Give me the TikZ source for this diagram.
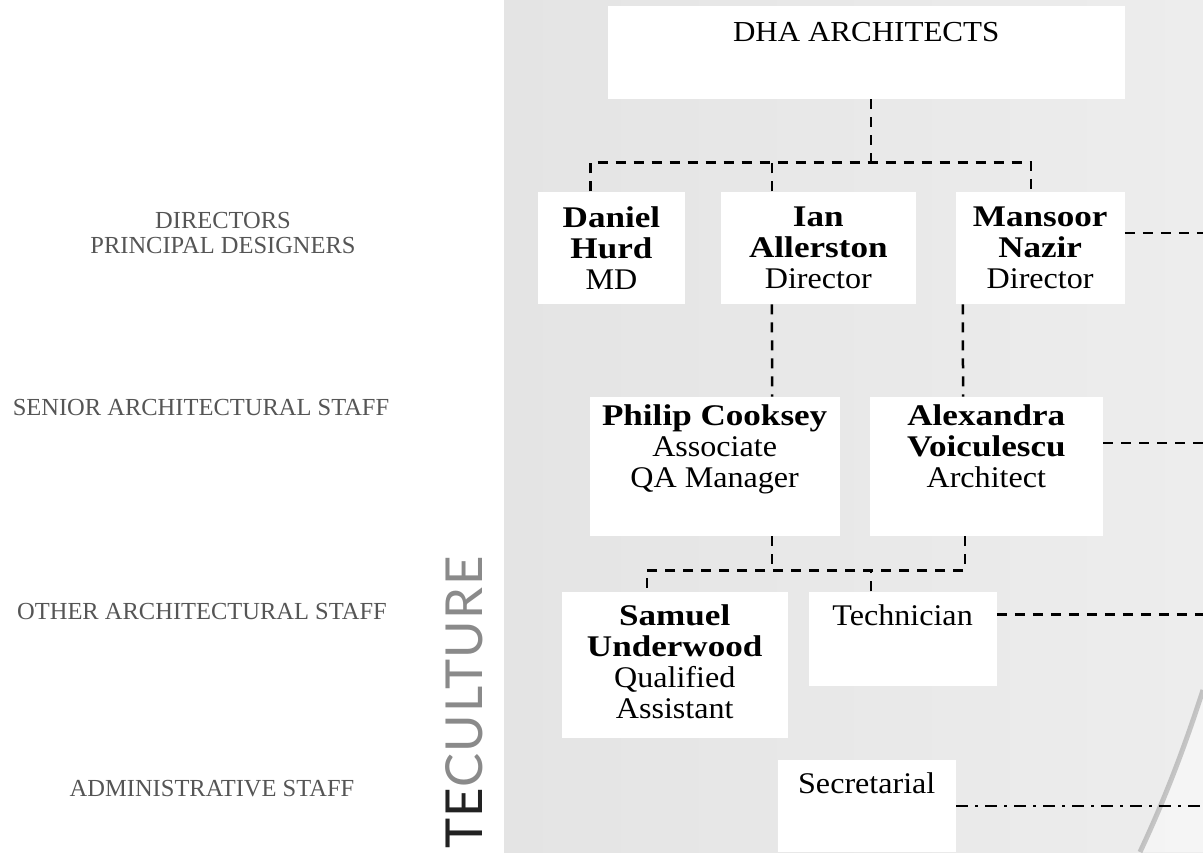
\documentclass[tikz,border=0pt]{standalone}
\usepackage{fontspec}
\setmainfont{Liberation Serif}
\newfontfamily\boxfont{Liberation Serif}[FakeStretch=1.07,BoldFeatures={FakeStretch=1.17}]
\newfontfamily\culturefont{Lato}[LetterSpace=3]
\usetikzlibrary{positioning,fit}
\definecolor{panelleft}{HTML}{E4E4E4}
\definecolor{panelright}{HTML}{EDEDED}
\definecolor{tiergray}{HTML}{555555}
\definecolor{tedark}{HTML}{222222}
\definecolor{culturegray}{HTML}{8A8A8A}

\begin{document}
\begin{tikzpicture}[x=0.5pt,y=-0.5pt,
staff/.style = {fill=white, inner sep=0pt},
who/.style = {font=\boxfont\fontsize{15}{15.5}\selectfont, align=center, inner sep=0pt, anchor=north},
tier/.style = {font=\fontsize{12.25}{12.5}\selectfont, text=tiergray, align=center, inner sep=0pt, anchor=north},
link/.style = {draw, line width=1.25pt, dash pattern=on 5pt off 4pt},
dotlink/.style = {draw, line width=1.25pt, dash pattern=on 6pt off 3.5pt on 1.5pt off 3.5pt}]

\useasboundingbox (0,0) rectangle (1203,852);

% background panel
\shade[left color=panelleft, right color=panelright] (504,0) rectangle (1203,852);
\fill[white, opacity=0.45] (1203,690) .. controls (1182,755) and (1162,805) .. (1140,852) -- (1203,852) -- cycle;
\draw[black!45, line width=2.5pt, opacity=0.45] (1203,690) .. controls (1182,755) and (1162,805) .. (1140,852);

% tier labels
\node[tier] (tdirectors) at (223,212) {DIRECTORS\\PRINCIPAL DESIGNERS};
\node[tier] (tsenior) at (201,399) {SENIOR ARCHITECTURAL STAFF};
\node[tier] (tother) at (202,603) {OTHER ARCHITECTURAL STAFF};
\node[tier] (tadmin) at (212,780) {ADMINISTRATIVE STAFF};

\node[font=\culturefont\fontsize{25.5}{25.5}\selectfont, text=culturegray, rotate=90,
      anchor=base east, inner sep=0pt] (culture) at (482,556) {\textcolor{tedark}{TE}CULTURE};

% boxes
\node[staff, fit={(608,6) (1124.5,99)}] (dha) {};
\node[staff, fit={(537.6,191.7) (685.2,304)}] (daniel) {};
\node[staff, fit={(721,191.7) (915.7,304)}] (ian) {};
\node[staff, fit={(955.8,191.7) (1124.5,304)}] (mansoor) {};
\node[staff, fit={(589.7,397) (839.6,536)}] (philip) {};
\node[staff, fit={(869.6,397) (1103,536)}] (alexandra) {};
\node[staff, fit={(561.8,591.7) (787.6,737.7)}] (samuel) {};
\node[staff, fit={(808.6,591.7) (996.5,685.7)}] (technician) {};
\node[staff, fit={(777.9,760) (955.6,852)}] (secretarial) {};

% texts
\node[who, font=\boxfont\fontsize{14.5}{15}\selectfont] (dhatext) at ([yshift=-8pt]dha.north) {DHA ARCHITECTS};
\node[who] (danieltext) at ([yshift=-7.5pt]daniel.north) {\textbf{Daniel}\\\textbf{Hurd}\\MD};
\node[who] (iantext) at ([yshift=-7.5pt]ian.north) {\textbf{Ian}\\\textbf{Allerston}\\Director};
\node[who] (mansoortext) at ([yshift=-7.5pt]mansoor.north) {\textbf{Mansoor}\\\textbf{Nazir}\\Director};
\node[who] (philiptext) at ([yshift=-4pt]philip.north) {\textbf{Philip Cooksey}\\Associate\\QA Manager};
\node[who] (alexandratext) at ([yshift=-4pt]alexandra.north) {\textbf{Alexandra}\\\textbf{Voiculescu}\\Architect};
\node[who] (samueltext) at ([yshift=-6.5pt]samuel.north) {\textbf{Samuel}\\\textbf{Underwood}\\Qualified\\Assistant};
\node[who] (techniciantext) at ([yshift=-6.5pt]technician.north) {Technician};
\node[who] (secretarialtext) at ([yshift=-6.5pt]secretarial.north) {Secretarial};

% connectors
\path[link] ([xshift=2.4pt]dha.south) -- ++(0,64);
\path[link] ([xshift=-10.4pt]daniel.north) -- ++(0,-29) -| ([xshift=-4.6pt]mansoor.north);
\path[link] ([xshift=-23.2pt]ian.north) -- ++(0,-29);
\path[link] ([xshift=-23.2pt]ian.south) -- ([xshift=28.7pt]philip.north);
\path[link] ([xshift=-38.6pt]mansoor.south) -- ([xshift=-11.65pt]alexandra.north);
\path[link] ([xshift=28.7pt]philip.south) -- ++(0,34);
\path[link] ([xshift=-10.65pt]alexandra.south) -- ++(0,34) -| ([xshift=-13.85pt]samuel.north);
\path[link] ([xshift=-15.8pt]technician.north) -- ++(0,-22);

\path[link] ([yshift=7.5pt]mansoor.east) -- ++(78.5,0);
\path[link] ([yshift=11.75pt]alexandra.east) -- ++(100,0);
\path[link] ([yshift=12pt]technician.east) -- ++(206.5,0);
\path[dotlink] (secretarial.east) -- ++(247.4,0);
\end{tikzpicture}
\end{document}
